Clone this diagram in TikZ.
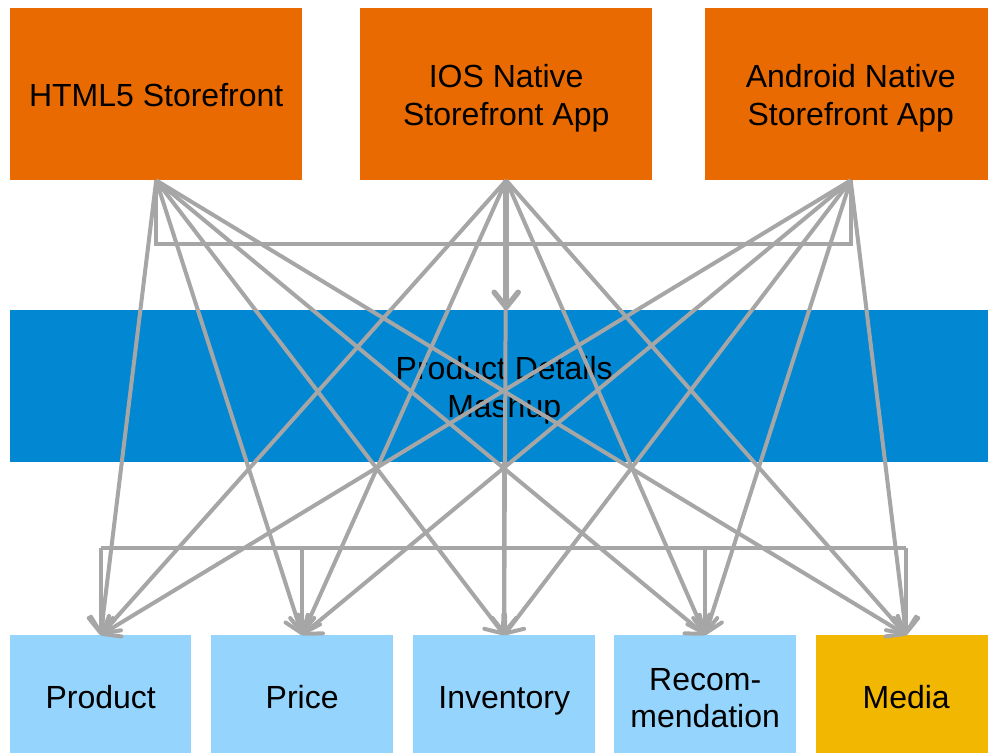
\documentclass[tikz,border=0pt]{standalone}
\usepackage{fontspec}
\setmainfont{Liberation Sans}
\usetikzlibrary{arrows.meta}
\definecolor{orangeC}{HTML}{E96A00}
\definecolor{blueC}{HTML}{0288D2}
\definecolor{lightC}{HTML}{95D4FC}
\definecolor{mediaC}{HTML}{F2B700}
\definecolor{lineC}{HTML}{A6A6A6}
\tikzset{
  box/.style={anchor=north west, inner sep=0pt},
  lbl/.style={inner sep=0pt, align=center, font=\fontsize{32}{37.5}\selectfont},
  topbox/.style={box, fill=orangeC, minimum width=292pt, minimum height=172pt},
  botbox/.style={box, fill=lightC, minimum width=182pt, minimum height=118pt},
  wire/.style={draw=lineC, line width=4pt},
  conn/.style={wire, -{Straight Barb[length=15pt,width=24pt,line cap=round,line join=round]}},
}
\begin{document}
\begin{tikzpicture}[x=1pt,y=-1pt]
\clip (0,0) rectangle (988,753);
\fill[white] (0,0) rectangle (988,753);
\node[topbox] (html) at (10,8) {};
\node[topbox] (ios) at (360,8) {};
\node[topbox, minimum width=291pt] (android) at (705,8) {};
\node[box, fill=blueC, minimum width=990pt, minimum height=152pt] (band) at (10,310) {};
\node[botbox, minimum width=181pt] (product) at (10,635) {};
\node[botbox] (price) at (211,635) {};
\node[botbox] (inventory) at (413,635) {};
\node[botbox] (recom) at (614,635) {};
\node[botbox, fill=mediaC, minimum width=180pt] (media) at (816,635) {};
% labels
\node[lbl] (htmlt) at ([yshift=-1pt]html.center) {HTML5 Storefront};
\node[lbl] (iost) at ([yshift=-4pt]ios.center) {IOS Native\\Storefront App};
\node[lbl] (androidt) at ([yshift=-4pt]android.center) {Android Native\\Storefront App};
\node[lbl] (bandt) at ([yshift=-4pt]band.center -| inventory.center) {Product Details\\Mashup};
\node[lbl, anchor=base] (productt) at (product.center |- 0,708) {Product};
\node[lbl, anchor=base] (pricet) at (price.center |- 0,708) {Price};
\node[lbl, anchor=base] (inventoryt) at (inventory.center |- 0,708) {Inventory};
\node[lbl] (recomt) at ([yshift=-4pt]recom.center) {Recom-\\mendation};
\node[lbl, anchor=base] (mediat) at (media.center |- 0,708) {Media};
% top bus
\draw[wire] (html.south) -- ++(0,64) -| (android.south);
% ios to mashup
\draw[conn, line width=5.5pt] (ios.south) -- (ios.south |- band.north);
% bottom bus
\draw[wire] ([yshift=87pt]product.north) -- ([yshift=87pt]media.north);
\foreach \t in {product,price,recom,media}{
  \draw[conn] ([yshift=87pt]\t.north) -- (\t.north);
}
\draw[conn] (band.south -| inventory.north) -- (inventory.north);
% all sources to all targets
\foreach \s in {html,ios,android}{
  \foreach \t in {product,price,inventory,recom,media}{
    \draw[conn] (\s.south) -- (\t.north);
  }
}
\end{tikzpicture}
\end{document}
